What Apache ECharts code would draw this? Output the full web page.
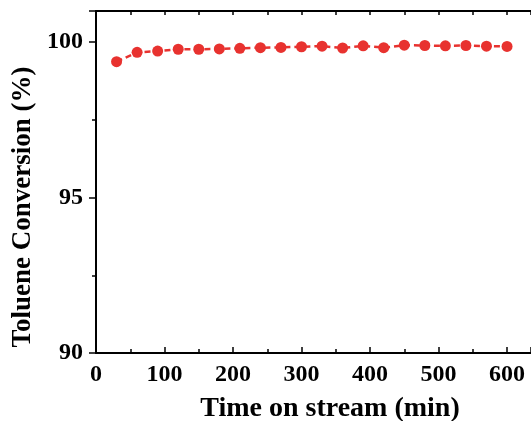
<!DOCTYPE html>
<html>
<head>
<meta charset="utf-8">
<script src="https://cdn.jsdelivr.net/npm/echarts@6/dist/echarts.min.js"></script>
<style>
  html, body { margin: 0; padding: 0; background: #fff; }
  #main { width: 531px; height: 421px; }
</style>
</head>
<body>
<div id="main"></div>
<script>
var timeMin = [30, 60, 90, 120, 150, 180, 210, 240, 270, 300,
               330, 360, 390, 420, 450, 480, 510, 540, 570, 600];
var conversion = [99.37, 99.67, 99.71, 99.77, 99.77, 99.78, 99.80, 99.82, 99.83, 99.85,
                  99.87, 99.81, 99.88, 99.82, 99.90, 99.89, 99.88, 99.89, 99.87, 99.86];

var font = '"Liberation Serif", "Times New Roman", serif';
var red = '#e8322f';

var chart = echarts.init(document.getElementById('main'));

var pts = timeMin.map(function (t, i) { return [t, conversion[i]]; });

chart.setOption({
    animation: false,
    grid: { left: 96, top: 11, right: 0, bottom: 68, outerBoundsMode: 'none' },
    xAxis: [
        {
            type: 'value',
            position: 'bottom',
            min: 0,
            max: 635,
            interval: 100,
            name: 'Time on stream (min)',
            nameLocation: 'middle',
            nameGap: 42,
            nameTextStyle: { fontFamily: font, fontWeight: 'bold', fontSize: 28, color: '#000', padding: [0, 0, 0, 33] },
            axisLine: { lineStyle: { color: '#000', width: 2 } },
            axisTick: { inside: true, length: 6, lineStyle: { width: 1.5 } },
            minorTick: { show: true, splitNumber: 2, length: 4, lineStyle: { color: '#000', width: 1.5 } },
            axisLabel: { margin: 10, fontFamily: font, fontWeight: 'bold', fontSize: 24, color: '#000', showMaxLabel: false },
            splitLine: { show: false }
        },
        {
            type: 'value',
            position: 'top',
            min: 0,
            max: 635,
            interval: 50,
            axisLine: { lineStyle: { color: '#000', width: 2 } },
            axisTick: { inside: true, length: 4, lineStyle: { width: 1.5 } },
            axisLabel: { show: false },
            splitLine: { show: false }
        }
    ],
    yAxis: {
        type: 'value',
        min: 90,
        max: 101,
        interval: 5,
        name: 'Toluene Conversion (%)',
        nameLocation: 'middle',
        nameGap: 58,
        nameTextStyle: { fontFamily: font, fontWeight: 'bold', fontSize: 27, color: '#000', padding: [0, 50, 0, 0] },
        axisLine: { show: true, lineStyle: { color: '#000', width: 2 } },
        axisTick: { show: true, length: 7, lineStyle: { width: 1.5 } },
        minorTick: { show: true, splitNumber: 2, length: 4, lineStyle: { color: '#000', width: 1.5 } },
        axisLabel: { margin: 13, fontFamily: font, fontWeight: 'bold', fontSize: 24, color: '#000', showMaxLabel: false },
        splitLine: { show: false }
    },
    series: [
        {
            type: 'line',
            xAxisIndex: 0,
            data: pts,
            symbol: 'circle',
            symbolSize: 11,
            itemStyle: { color: red },
            lineStyle: { color: red, width: 2.5, type: [6, 4] }
        }
    ]
});
</script>
</body>
</html>
